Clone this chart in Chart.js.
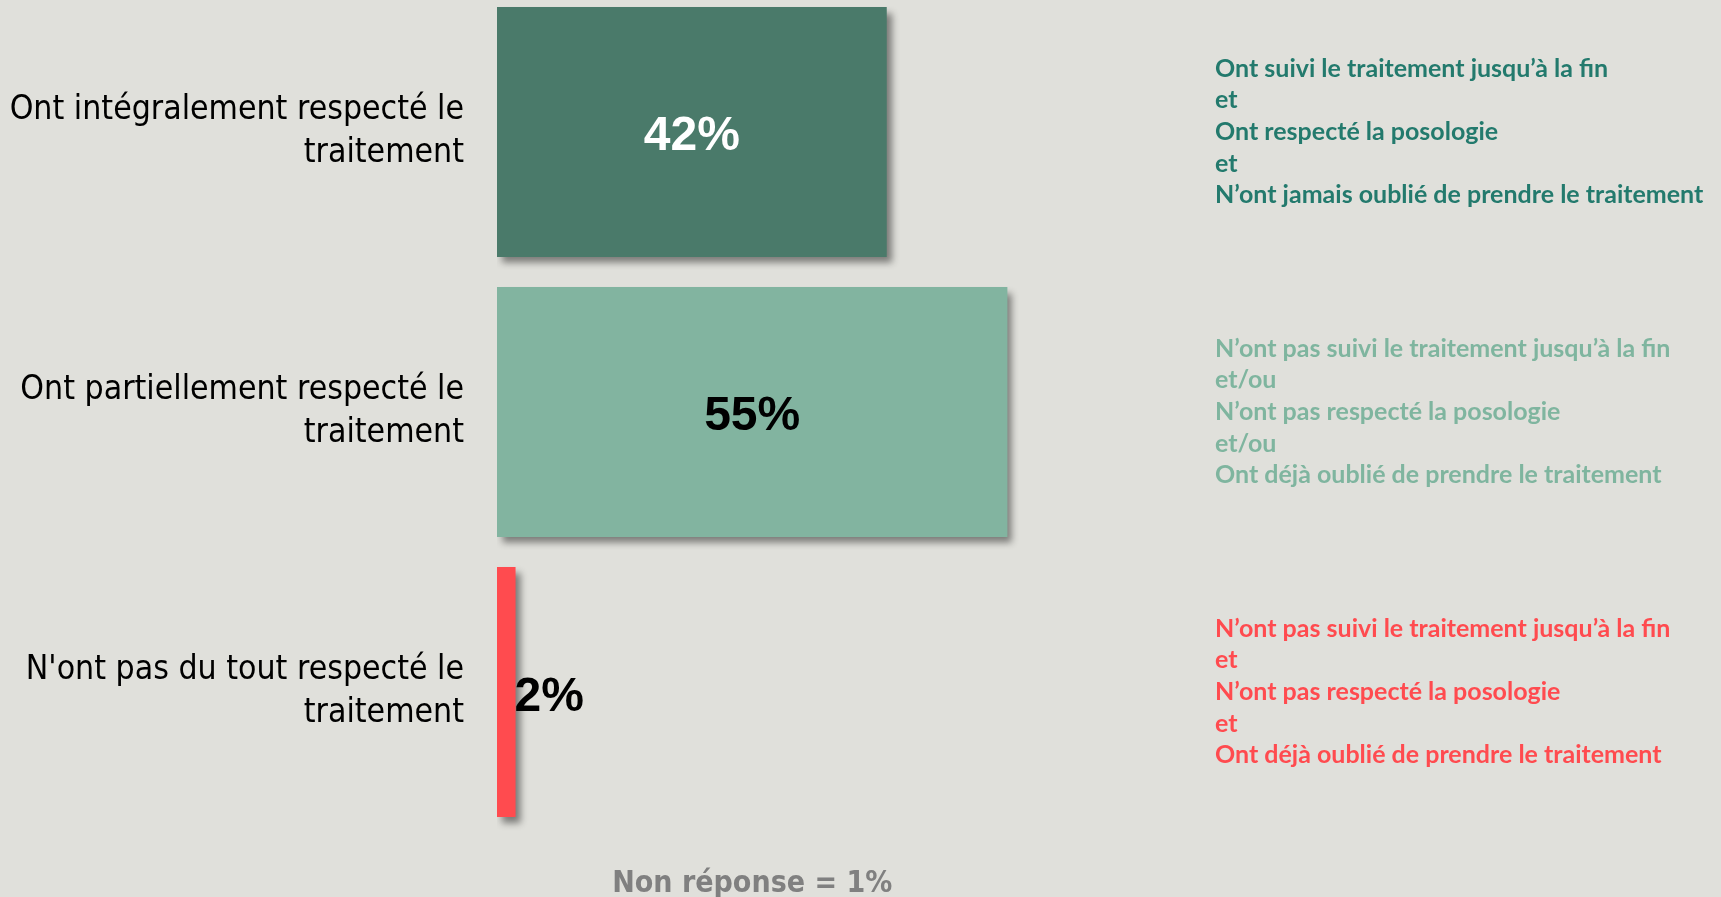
<!DOCTYPE html>
<html>
<head>
<meta charset="utf-8">
<script src="https://cdn.jsdelivr.net/npm/chart.js@4/dist/chart.umd.min.js"></script>
<style>
  html, body { margin: 0; padding: 0; background: #e0e0db; overflow: hidden; }
  #wrap { position: absolute; left: 0; top: -8px; width: 1721px; height: 905px; }
</style>
</head>
<body>
<div id="wrap"><canvas id="c" width="1721" height="905"></canvas></div>
<script>
const categories = [
  ["Ont intégralement respecté le", "traitement"],
  ["Ont partiellement respecté le", "traitement"],
  ["N'ont pas du tout respecté le", "traitement"]
];
const values = [42, 55, 2];
const barColors = ["#4a7a6a", "#82b4a0", "#ff4b4f"];
const valueLabelColors = ["#ffffff", "#000000", "#000000"];
const descriptions = [
  ["Ont suivi le traitement jusqu’à la fin", "et", "Ont respecté la posologie", "et", "N’ont jamais oublié de prendre le traitement"],
  ["N’ont pas suivi le traitement jusqu’à la fin", "et/ou", "N’ont pas respecté la posologie", "et/ou", "Ont déjà oublié de prendre le traitement"],
  ["N’ont pas suivi le traitement jusqu’à la fin", "et", "N’ont pas respecté la posologie", "et", "Ont déjà oublié de prendre le traitement"]
];
const descriptionColors = ["#237a6d", "#7fb59f", "#ff4b4f"];
const footnote = "Non réponse = 1%";

const shadowPlugin = {
  id: 'barShadow',
  beforeDatasetsDraw(chart) {
    const ctx = chart.ctx;
    ctx.save();
    ctx.shadowColor = 'rgba(0,0,0,0.45)';
    ctx.shadowBlur = 7;
    ctx.shadowOffsetX = 5;
    ctx.shadowOffsetY = 6;
  },
  afterDatasetsDraw(chart) {
    chart.ctx.restore();
  }
};

const labelsPlugin = {
  id: 'textLabels',
  afterDraw(chart) {
    const ctx = chart.ctx;
    const xs = chart.scales.x, ys = chart.scales.y;
    const meta = chart.getDatasetMeta(0);
    ctx.save();
    // value labels
    ctx.font = 'bold 48px "Liberation Sans", Arial, sans-serif';
    ctx.textBaseline = 'middle';
    meta.data.forEach((bar, i) => {
      const w = ctx.measureText(values[i] + '%').width;
      const barW = bar.x - bar.base;
      ctx.fillStyle = valueLabelColors[i];
      if (barW > w + 10) {
        ctx.textAlign = 'center';
        ctx.fillText(values[i] + '%', (bar.x + bar.base) / 2, bar.y + 5);
      } else {
        ctx.textAlign = 'left';
        ctx.fillText(values[i] + '%', bar.x - 1, bar.y + 6);
      }
    });
    // descriptions
    ctx.font = 'bold 25px Lato, "Open Sans", sans-serif';
    ctx.textAlign = 'left';
    ctx.textBaseline = 'middle';
    const lh = 31.7;
    descriptions.forEach((lines, i) => {
      const cy = ys.getPixelForValue(i);
      ctx.fillStyle = descriptionColors[i];
      lines.forEach((t, j) => {
        ctx.fillText(t, 1215, cy + (j - (lines.length - 1) / 2) * lh);
      });
    });
    // footnote
    ctx.font = 'bold 30px "DejaVu Sans Condensed", "DejaVu Sans", sans-serif';
    ctx.fillStyle = '#808080';
    ctx.textAlign = 'center';
    ctx.textBaseline = 'alphabetic';
    ctx.fillText(footnote, xs.getPixelForValue(values[1] / 2), 900);
    ctx.restore();
  }
};

new Chart(document.getElementById('c'), {
  type: 'bar',
  data: {
    labels: categories,
    datasets: [{
      data: values,
      backgroundColor: barColors,
      borderWidth: 0,
      barPercentage: 0.893,
      categoryPercentage: 1.0
    }]
  },
  options: {
    indexAxis: 'y',
    responsive: false,
    animation: false,
    devicePixelRatio: 1,
    layout: { padding: { left: 0, right: 296, top: 0, bottom: 65 } },
    plugins: { legend: { display: false }, tooltip: { enabled: false } },
    scales: {
      x: { display: false, min: 0, max: 100 },
      y: {
        grid: { display: false, drawTicks: false },
        border: { display: false },
        ticks: {
          color: '#000000',
          padding: 33,
          font: { family: '"DejaVu Sans Condensed", "DejaVu Sans", sans-serif', size: 33.5, lineHeight: 1.27 }
        },
        afterFit(scale) {
          scale.width = 497;
          scale.paddingTop = 0;
          scale.paddingBottom = 0;
        }
      }
    }
  },
  plugins: [shadowPlugin, labelsPlugin]
});
</script>
</body>
</html>
